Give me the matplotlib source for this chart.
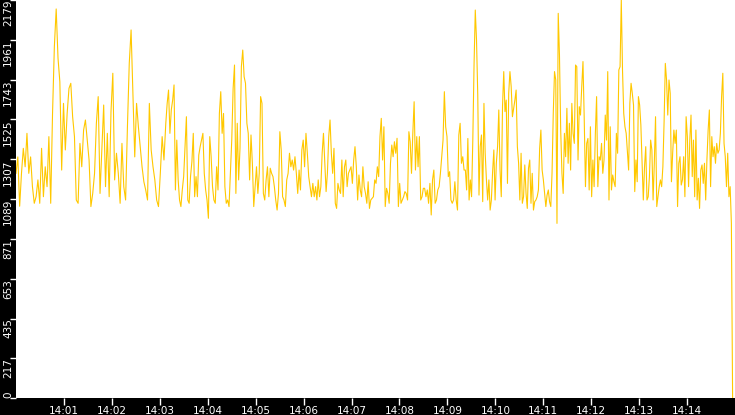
import numpy as np
import matplotlib.pyplot as plt

# values, one list per 150px-wide stretch (seconds after 14:00:00)
seg1 = [1230, 1320, 1050, 1230, 1367, 1266, 1449, 1230, 1320, 1157, 1066, 1102, 1194, 1066,
        1367, 1102, 1266, 1157, 1431, 1066, 1558, 1924, 2130, 1860, 1732, 1248, 1613, 1358,
        1558, 1695, 1723, 1540, 1431, 1084, 1066, 1394, 1266, 1467, 1522, 1412, 1303, 1048,
        1120, 1230, 1504, 1650, 1120, 1358, 1604, 1157, 1449, 1102, 1568, 1778, 1194, 1340,
        1230, 1066, 1394, 1157, 1084, 1485, 1832, 2015, 1668, 1320, 1613, 1485, 1376, 1266,
        1184, 1139, 1084, 1613, 1358, 1266, 1194, 1084, 1048, 1230, 1431, 1303]
seg2 = [1504, 1613, 1686, 1449, 1577, 1631, 1714, 1139, 1412, 1194, 1084, 1048, 1139, 1212,
        1376, 1540, 1084, 1066, 1212, 1294, 1449, 1102, 1212, 1102, 1330, 1376, 1412, 1449,
        1230, 1139, 1084, 984, 1431, 1321, 1157, 1084, 1066, 1266, 1139, 1558, 1677, 1449,
        1558, 1157, 1066, 1084, 1048, 1230, 1412, 1695, 1823, 1120, 1504, 1194, 1367, 1814,
        1905, 1759, 1723, 1504, 1449, 1194, 1440, 1285, 1048, 1157, 1266, 1120, 1230, 1650,
        1613, 1120, 1084, 1194, 1266, 1102, 1258, 1230, 1212, 1157, 1084, 1029, 1120, 1458,
        1358, 1102, 1084, 1048, 1194, 1230, 1340, 1266, 1303, 1248, 1321, 1230, 1120, 1248,
        1139, 1358, 1412, 1266, 1449, 1340, 1212, 1157, 1102, 1175, 1102]
seg3 = [1157, 1084, 1194, 1102, 1157, 1340, 1449, 1285, 1130, 1230, 1431, 1522, 1340, 1230,
        1367, 1066, 1038, 1175, 1139, 1120, 1303, 1102, 1266, 1303, 1157, 1230, 1248, 1266,
        1175, 1303, 1376, 1266, 1084, 1221, 1139, 1102, 1266, 1157, 1120, 1066, 1184, 1038,
        1084, 1093, 1102, 1194, 1175, 1266, 1212, 1431, 1531, 1303, 1485, 1048, 1148, 1120,
        1066, 1285, 1385, 1321, 1403, 1340, 1422, 1048, 1175, 1066, 1084, 1102, 1130, 1120,
        1084, 1458, 1403, 1230, 1449, 1622, 1248, 1431, 1266, 1431, 1084, 1102, 1148, 1148,
        1102, 1139, 1066, 1175, 1002, 1194, 1248, 1066, 1084, 1139, 1157, 1230, 1321, 1412,
        1677, 1485, 1431, 1212, 1239, 1084, 1066, 1084, 1184, 1084, 1029, 1440, 1504, 1285,
        1321, 1248]
seg4 = [1248, 1139, 1421, 1084, 1194, 1102, 1412, 1823, 2124, 1960, 1659, 1111, 1376, 1440,
        1075, 1613, 1340, 1194, 1084, 1194, 1029, 1084, 1239, 1358, 1084, 1285, 1376, 1577,
        1248, 1102, 1595, 1787, 1568, 1631, 1175, 1668, 1787, 1705, 1540, 1586, 1631, 1686,
        1376, 1285, 1084, 1340, 1066, 1102, 1276, 1120, 1038, 1258, 1303, 1066, 1230, 1029,
        1075, 1084, 1102, 1139, 1367, 1467, 1248, 1194, 1120, 1048, 1111, 1139, 1075, 1048,
        1230, 1558, 1787, 1741, 956, 2106, 1878, 1467, 1230, 1120, 1449, 1321, 1586, 1285,
        1504, 1248, 1613, 1449, 1394, 1823, 1814, 1303, 1595, 1549, 1705, 1842, 1531, 1157,
        1394, 1421, 1139, 1485, 1102, 1303, 1157, 1449, 1650, 1157, 1321, 1303, 1394, 1230,
        1303, 1549, 1412, 1787, 1084, 1485, 1139, 1221, 1184]
seg5 = [1157, 1449, 1340, 1796, 1814, 2179, 1796, 1558, 1485, 1449, 1349, 1248, 1613, 1723,
        1668, 1604, 1130, 1303, 1184, 1650, 1604, 1495, 1285, 1084, 1266, 1376, 1084, 1102,
        1212, 1412, 1358, 1084, 1285, 1540, 1048, 1102, 1157, 1194, 1157, 1266, 1513, 1832,
        1741, 1549, 1741, 1668, 1184, 1340, 1467, 1394, 1467, 1048, 1285, 1321, 1166, 1194,
        1321, 1102, 1540, 1431, 1157, 1412, 1549, 1212, 1412, 1102, 1467, 1084, 1203, 1038,
        1248, 1276, 1175, 1285, 1084, 1303, 1467, 1577, 1157, 1431, 1321, 1376, 1285, 1394,
        1340, 1358, 1449, 1650, 1778, 1394, 1321, 1157, 1340, 1102, 1157, 956, 0]
seg_bounds = [0, 187.5, 375, 562.5, 750, 897]

y_ticks = [0, 217, 435, 653, 871, 1089, 1307, 1525, 1743, 1961, 2179]
x_tick_labels = ["14:%02d" % m for m in range(1, 15)]
x_ticks = [m * 60 for m in range(1, 15)]

segs = [seg1, seg2, seg3, seg4, seg5]
t = []
v = []
for i, seg in enumerate(segs):
    last = i == len(segs) - 1
    t.extend(np.linspace(seg_bounds[i], seg_bounds[i + 1], len(seg), endpoint=last))
    v.extend(seg)

fig = plt.figure(figsize=(7.35, 4.15), dpi=100, facecolor="black")
ax = fig.add_axes([16 / 735, 17 / 415, 719 / 735, 398 / 415])
ax.set_facecolor("white")
ax.plot(t, v, color="#FFC800", linewidth=0.8)

ax.set_xlim(0, 900)
ax.set_ylim(0, 2179)
for s in ax.spines.values():
    s.set_visible(False)

ax.set_xticks(x_ticks)
ax.set_xticklabels(x_tick_labels)
ax.set_yticks(y_ticks)
ax.set_yticklabels([str(y) for y in y_ticks], rotation=90, va="top")
ax.get_yticklabels()[0].set_va("bottom")
ax.tick_params(axis="both", colors="white", labelcolor="white",
               width=1, direction="out")
ax.tick_params(axis="x", length=5, pad=1, labelsize=7.5)
ax.tick_params(axis="y", length=4, pad=-2, labelsize=7.5)

fig.savefig("out.png", dpi=100, facecolor="black")
